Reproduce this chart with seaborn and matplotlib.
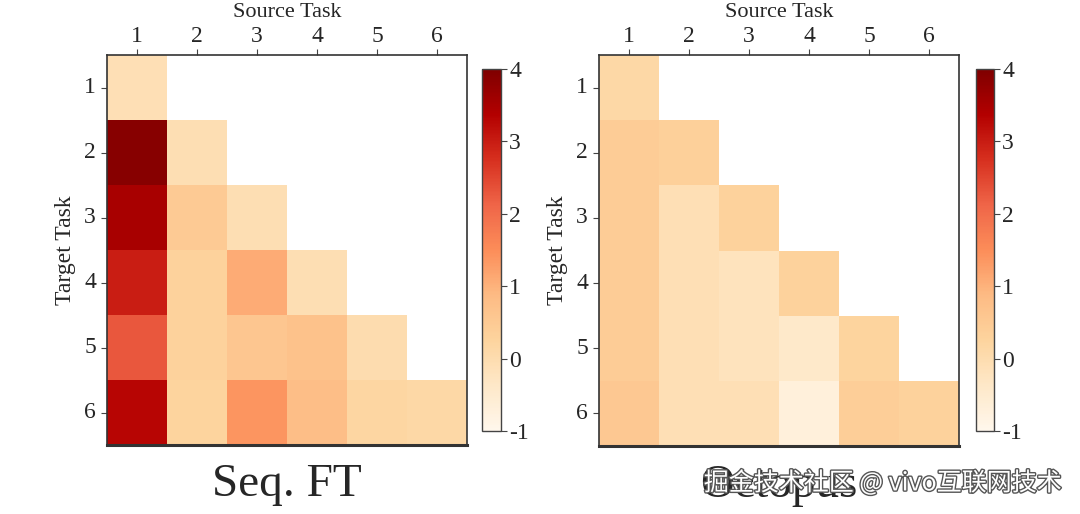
"""
Task transfer heatmaps: Seq. FT vs Octopus.
"""
import numpy as np
import pandas as pd
import matplotlib
matplotlib.use("Agg")
import matplotlib.pyplot as plt
import matplotlib.patheffects as pe
import seaborn as sns

sns.set_theme(style="white")
plt.rcParams['font.family'] = ['Liberation Serif', 'DejaVu Serif']
plt.rcParams['axes.unicode_minus'] = False

# Data (rows = target task, cols = source task), NaN = not evaluated
tasks = [1, 2, 3, 4, 5, 6]
seq_ft = [
    [-0.1, np.nan, np.nan, np.nan, np.nan, np.nan],
    [3.9, -0.05, np.nan, np.nan, np.nan, np.nan],
    [3.5, 0.5, -0.05, np.nan, np.nan, np.nan],
    [3.0, 0.3, 1.1, -0.05, np.nan, np.nan],
    [2.3, 0.3, 0.6, 0.7, 0.0, np.nan],
    [3.3, 0.25, 1.4, 0.8, 0.2, 0.15],
]
octopus = [
    [0.15, np.nan, np.nan, np.nan, np.nan, np.nan],
    [0.45, 0.35, np.nan, np.nan, np.nan, np.nan],
    [0.45, -0.1, 0.3, np.nan, np.nan, np.nan],
    [0.45, -0.1, -0.2, 0.3, np.nan, np.nan],
    [0.45, -0.1, -0.2, -0.4, 0.25, np.nan],
    [0.55, -0.1, -0.1, -0.7, 0.4, 0.3],
]
titles = ["Seq. FT", "Octopus"]
cbar_ticks = [-1, 0, 1, 2, 3, 4]

W, H = 1080, 514
fig = plt.figure(figsize=(W / 100, H / 100), dpi=100)


def box(x0, y0, x1, y1):
    return [x0 / W, 1 - y1 / H, (x1 - x0) / W, (y1 - y0) / H]


layout = [
    (box(107, 55, 467, 445), box(482, 69, 501, 431)),
    (box(599, 55, 959, 446), box(976, 69, 994, 431)),
]

for data, title, (ax_pos, cb_pos) in zip([seq_ft, octopus], titles, layout):
    ax = fig.add_axes(ax_pos)
    cax = fig.add_axes(cb_pos)
    df = pd.DataFrame(data, index=tasks, columns=tasks)
    sns.heatmap(df, ax=ax, cbar_ax=cax, cmap="OrRd", vmin=-1, vmax=4,
                cbar_kws={"ticks": cbar_ticks})
    ax.xaxis.tick_top()
    ax.set_xlabel("Source Task", fontsize=16)
    ax.xaxis.set_label_coords(0.5, 1.108)
    ax.xaxis.label.set_va("center")
    ax.set_ylabel("Target Task", fontsize=17, labelpad=6)
    ax.tick_params(axis="both", labelsize=17, length=4, width=0.8,
                   color="#444444", bottom=False, top=True, left=True)
    ax.tick_params(axis="x", pad=1.5)
    ax.tick_params(axis="y", pad=4)
    ax.set_yticklabels(tasks, rotation=0)
    ax.set_xticklabels(tasks, rotation=0)
    for sp in ax.spines.values():
        sp.set_visible(True)
        sp.set_color("#333333")
        sp.set_linewidth(1.2)
    ax.spines["bottom"].set_linewidth(2.2)
    cbar = ax.collections[0].colorbar
    cbar.ax.tick_params(labelsize=17, length=4, width=0.8, color="#444444",
                        right=True, pad=2)
    cbar.ax.set_yticklabels([str(t) for t in cbar_ticks])
    cbar.outline.set_visible(True)
    cbar.outline.set_edgecolor("#444444")
    cbar.outline.set_linewidth(1.0)
    ax.text(0.5, -0.131, title, transform=ax.transAxes, ha="center",
            va="baseline", fontsize=34)

# watermark
fig.text(0.983, 0.06, "掘金技术社区 @ vivo互联网技术", ha="right", va="center",
         fontsize=18, color="white",
         family=['Noto Sans CJK SC', 'DejaVu Sans'],
         path_effects=[pe.withStroke(linewidth=2, foreground="#555555")])

fig.savefig("out.png", dpi=100)
